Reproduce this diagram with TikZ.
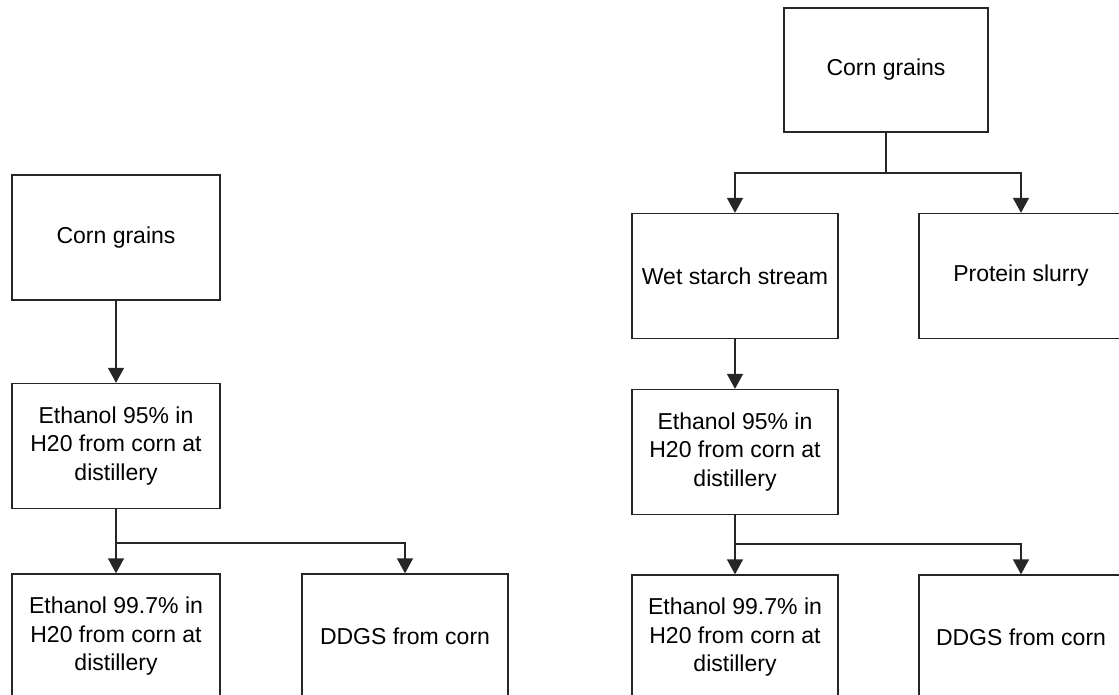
\documentclass[tikz,border=0pt]{standalone}
\usepackage{fontspec}
\setmainfont{Liberation Sans}
\usetikzlibrary{arrows.meta}
\begin{document}
\begin{tikzpicture}[x=1pt,y=-1pt,
  flowbox/.style={draw=black!85, line width=1.3pt, rectangle, align=center,
    minimum width=206pt, minimum height=125pt, inner sep=0pt,
    font=\fontsize{23}{28.5}\selectfont},
  link/.style={draw=black!85, line width=1.3pt},
  arr/.style={link, -{Triangle[width=16pt,length=15pt]}}]
\clip (0,0) rectangle (1119,695);
% left chain
\node[flowbox, minimum width=208pt] (cornL) at (116,237.5) {Corn grains};
\node[flowbox, minimum width=208pt] (ethL) at (116,446) {Ethanol 95\% in\\H20 from corn at\\distillery};
\node[flowbox, minimum width=208pt] (eth2L) at (116,636.5) {Ethanol 99.7\% in\\H20 from corn at\\distillery};
\node[flowbox] (ddgsL) at (405,636.5) {DDGS from corn};
\coordinate (jL) at (116,543);
\draw[arr] (cornL.south) -- (ethL.north);
\draw[link] (ethL.south) -- (jL);
\draw[arr] (jL) -- (eth2L.north);
\draw[arr] (jL) -| (ddgsL.north);
% right chain
\node[flowbox, minimum width=204pt, minimum height=124pt] (cornR) at (886,70) {Corn grains};
\node[flowbox] (wet) at (735,276) {Wet starch stream};
\node[flowbox, minimum width=204pt] (prot) at (1021,276) {Protein slurry};
\node[flowbox] (ethR) at (735,452) {Ethanol 95\% in\\H20 from corn at\\distillery};
\node[flowbox] (eth2R) at (735,637.5) {Ethanol 99.7\% in\\H20 from corn at\\distillery};
\node[flowbox, minimum width=204pt] (ddgsR) at (1021,637.5) {DDGS from corn};
\coordinate (jR1) at (886,173);
\coordinate (jR2) at (735,544);
\draw[link] (cornR.south) -- (jR1);
\draw[arr] (jR1) -| (wet.north);
\draw[arr] (jR1) -| (prot.north);
\draw[arr] (wet.south) -- (ethR.north);
\draw[link] (ethR.south) -- (jR2);
\draw[arr] (jR2) -- (eth2R.north);
\draw[arr] (jR2) -| (ddgsR.north);
\end{tikzpicture}
\end{document}
